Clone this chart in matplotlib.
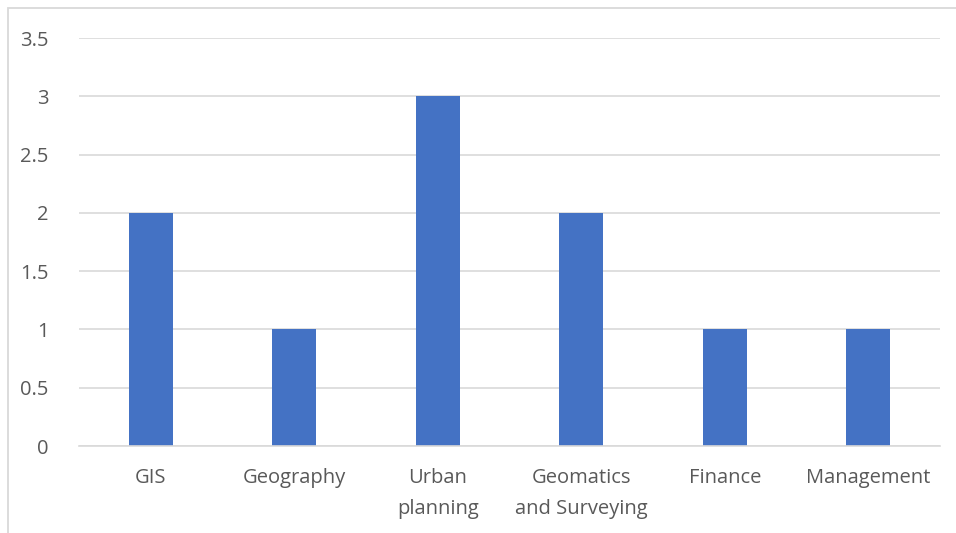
import matplotlib.pyplot as plt
from matplotlib.patches import Rectangle

categories = ["GIS", "Geography", "Urban\nplanning", "Geomatics\nand Surveying", "Finance", "Management"]
values = [2, 1, 3, 2, 1, 1]
yticks = [0, 0.5, 1, 1.5, 2, 2.5, 3, 3.5]
ytick_labels = ["0", "0.5", "1", "1.5", "2", "2.5", "3", "3.5"]

plt.rcParams['font.family'] = ['Open Sans', 'DejaVu Sans']

fig = plt.figure(figsize=(9.56, 5.33), dpi=100)
fig.patch.set_facecolor('white')

# chart area border (only left and top edges fall inside the canvas)
fig.patches.append(Rectangle((8 / 956, -0.1), 1.2, 1.1 - 8 / 533,
                             transform=fig.transFigure, fill=False,
                             edgecolor='#D9D9D9', linewidth=1.3))

ax = fig.add_axes([79 / 956, 1 - 446 / 533, (940 - 79) / 956, (446 - 38) / 533])
x = list(range(len(categories)))
ax.bar(x, values, width=0.31, color='#4472C4', zorder=3)

ax.set_xlim(-0.5, len(categories) - 0.5)
ax.set_ylim(0, 3.5)
ax.set_yticks(yticks)
ax.set_yticklabels(ytick_labels)
ax.set_xticks(x)
ax.set_xticklabels(categories, linespacing=1.75)

ax.grid(axis='y', color='#D9D9D9', linewidth=1.2, zorder=0)
for s in ['top', 'right', 'left']:
    ax.spines[s].set_visible(False)
ax.spines['bottom'].set_color('#D9D9D9')
ax.spines['bottom'].set_linewidth(1.2)
ax.spines['bottom'].set_zorder(4)

ax.tick_params(axis='both', length=0, labelsize=14.5, colors='#595959')
ax.tick_params(axis='x', pad=16)
ax.tick_params(axis='y', pad=22)

fig.savefig('out.png', dpi=100, facecolor='white')
